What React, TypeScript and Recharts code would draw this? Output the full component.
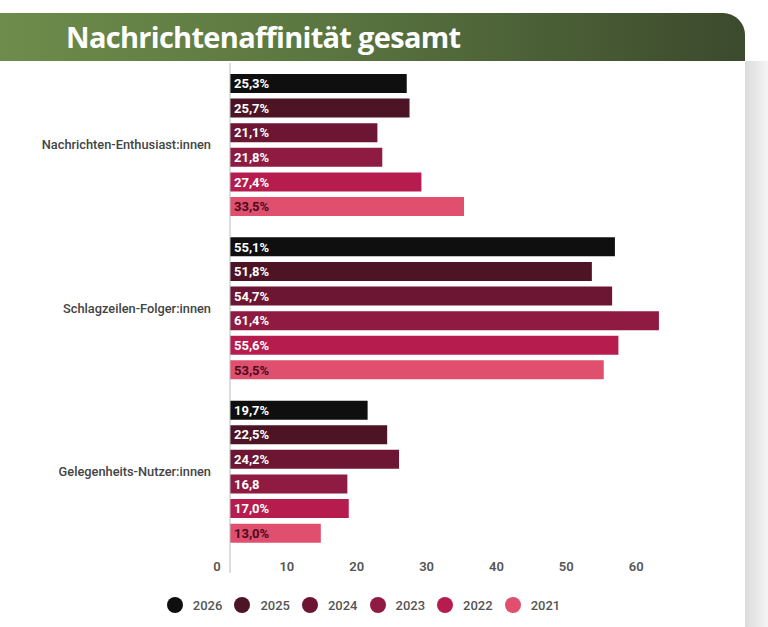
import React from "react";
import { BarChart, Bar, XAxis, YAxis, Legend, LabelList } from "recharts";

const categories = [
  "Nachrichten-Enthusiast:innen",
  "Schlagzeilen-Folger:innen",
  "Gelegenheits-Nutzer:innen",
];
const years = ["2026", "2025", "2024", "2023", "2022", "2021"];

const v2026 = [25.3, 55.1, 19.7];
const v2025 = [25.7, 51.8, 22.5];
const v2024 = [21.1, 54.7, 24.2];
const v2023 = [21.8, 61.4, 16.8];
const v2022 = [27.4, 55.6, 17.0];
const v2021 = [33.5, 53.5, 13.0];

const xTicks = [0, 10, 20, 30, 40, 50, 60];

// the 16,8 bar is labelled without a percent sign
const noPercent = [{ year: "2023", category: 2 }];

const colors: Record<string, string> = {
  "2026": "#0f0f10",
  "2025": "#4d1426",
  "2024": "#6c1634",
  "2023": "#8f1a42",
  "2022": "#b61d4e",
  "2021": "#e04f6e",
};
const labelColors: Record<string, string> = {
  "2021": "#4a0b1c",
};

const series: Record<string, number[]> = {
  "2026": v2026,
  "2025": v2025,
  "2024": v2024,
  "2023": v2023,
  "2022": v2022,
  "2021": v2021,
};

const data = categories.map((name, i) => {
  const row: Record<string, string | number> = { name };
  years.forEach((y) => {
    row[y] = series[y][i];
  });
  return row;
});

const fmt = (year: string, i: number, v: number) => {
  const s = v.toFixed(1).replace(".", ",");
  const plain = noPercent.some((n) => n.year === year && n.category === i);
  return plain ? s : s + "%";
};

const XTick = (props: any) => {
  const { x, y, payload } = props;
  return (
    <text
      x={x - 13}
      y={y - 10}
      textAnchor="middle"
      fill="#555"
      fontSize={13}
      fontWeight={600}
      fontFamily="Roboto, sans-serif"
    >
      {payload.value}
    </text>
  );
};

const LegendContent = () => (
  <div
    style={{
      display: "flex",
      justifyContent: "center",
      fontFamily: "Roboto, sans-serif",
      fontSize: 13,
      fontWeight: 500,
      color: "#555",
    }}
  >
    {years.map((y) => (
      <div key={y} style={{ display: "flex", alignItems: "center", marginRight: 12 }}>
        <span
          style={{
            width: 16,
            height: 16,
            borderRadius: 8,
            background: colors[y],
            display: "inline-block",
            marginRight: 10,
          }}
        />
        <span>{y}</span>
      </div>
    ))}
  </div>
);

const App: React.FC = () => {
  return (
    <div
      style={{
        position: "absolute",
        left: 0,
        top: 0,
        width: 768,
        height: 627,
        background: "#fff",
        overflow: "hidden",
      }}
    >
      {/* card shadow on the right */}
      <div
        style={{
          position: "absolute",
          left: 745,
          top: 61,
          width: 23,
          height: 566,
          background: "linear-gradient(90deg, #dcdcdc, #f4f4f4)",
        }}
      />
      <div
        style={{
          position: "absolute",
          left: 0,
          top: 13,
          width: 745,
          height: 48,
          background: "linear-gradient(90deg, #6e8c4b 0%, #5a7540 45%, #3c4a2d 100%)",
          borderTopRightRadius: 22,
        }}
      >
        <div
          style={{
            position: "absolute",
            left: 66,
            top: 4,
            color: "#fff",
            fontFamily: "'Open Sans', sans-serif",
            fontWeight: 700,
            fontSize: 29,
            letterSpacing: -0.7,
          }}
        >
          Nachrichtenaffinität gesamt
        </div>
      </div>
      <div style={{ position: "absolute", left: 0, top: 0 }}>
        <BarChart
          width={745}
          height={627}
          data={data}
          layout="vertical"
          margin={{ top: 63, right: 26, bottom: 8, left: 10 }}
          barSize={19}
          barGap={5.6}
        >
          <XAxis
            type="number"
            domain={[0, 70]}
            ticks={xTicks}
            axisLine={false}
            tickLine={false}
            tick={<XTick />}
          />
          <YAxis
            type="category"
            dataKey="name"
            width={220}
            padding={{ top: 0, bottom: 20 }}
            axisLine={{ stroke: "#bbb", strokeWidth: 1 }}
            tickLine={false}
            tickSize={0}
            tickMargin={19}
            tick={{
              fill: "#444",
              fontSize: 12.8,
              fontWeight: 500,
              fontFamily: "Roboto, sans-serif",
            }}
          />
          <Legend
            verticalAlign="bottom"
            content={<LegendContent />}
            wrapperStyle={{ top: 597, left: -3, width: 745 }}
          />
          {years.map((y) => (
            <Bar key={y} dataKey={y} fill={colors[y]} isAnimationActive={false}>
              <LabelList
                dataKey={y}
                content={(p: any) => (
                  <text
                    x={p.x + 4}
                    y={p.y + p.height / 2}
                    dy="0.36em"
                    fill={labelColors[y] || "#fff"}
                    fontSize={13}
                    fontWeight={700}
                    fontFamily="Roboto, sans-serif"
                  >
                    {fmt(y, p.index, p.value)}
                  </text>
                )}
              />
            </Bar>
          ))}
        </BarChart>
      </div>
    </div>
  );
};

export default App;
